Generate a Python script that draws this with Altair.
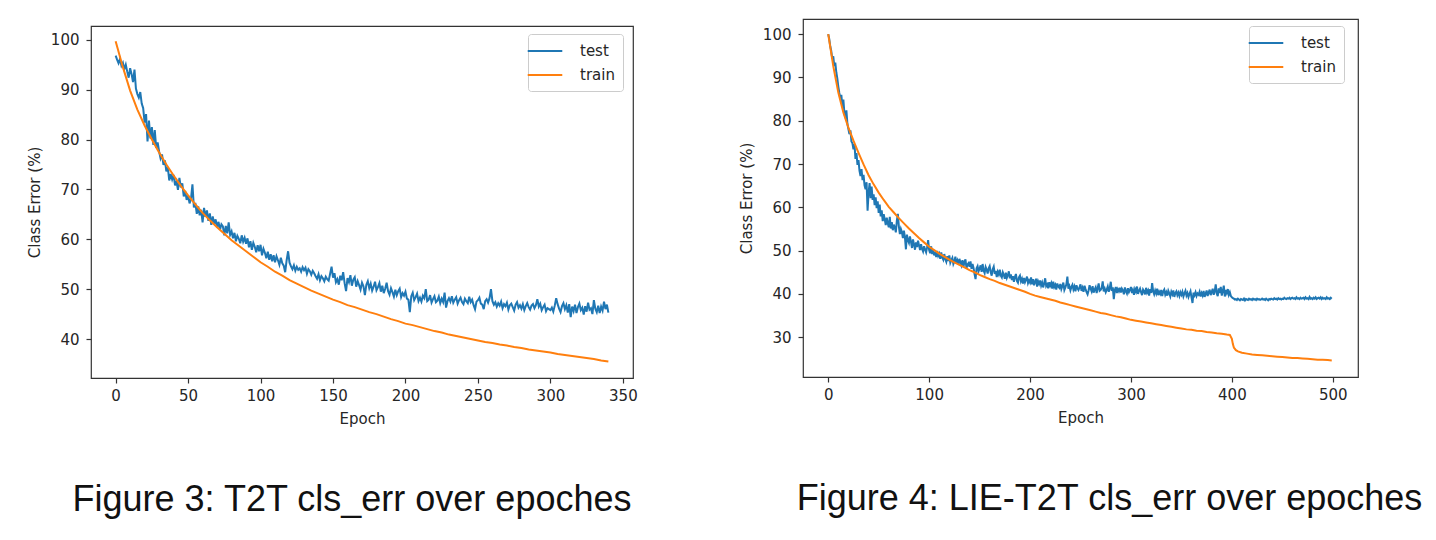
import altair as alt
import pandas as pd

# ---------------- T2T (Figure 3) ----------------
t2t_test = [
    96.8, 96.0, 95.3, 96.1, 94.8, 95.4, 94.1, 95.0, 93.6, 92.4,
    94.3, 93.1, 91.5, 94.0, 90.2, 89.1, 88.4, 89.5, 87.2, 86.3,
    83.4, 85.1, 79.6, 83.8, 80.2, 82.5, 78.9, 81.9, 78.3, 79.4,
    77.6, 76.2, 77.0, 74.9, 75.8, 73.6, 74.4, 71.8, 73.1, 72.0,
    72.9, 70.8, 71.6, 69.9, 72.3, 70.4, 71.2, 68.6, 69.7, 67.9,
    68.8, 67.2, 68.1, 71.0, 66.4, 67.3, 65.1, 66.6, 64.8, 65.9,
    63.4, 66.3, 64.5, 65.8, 63.7, 65.2, 62.9, 64.6, 63.1, 64.0,
    62.4, 63.5, 61.9, 63.0, 62.6, 60.8, 62.7, 61.2, 63.4, 60.9,
    61.6, 60.2, 61.3, 59.6, 60.7, 60.1, 59.2, 60.8, 59.5, 60.3,
    59.1, 60.2, 58.4, 59.6, 57.9, 59.3, 58.5, 57.4, 58.8, 57.6,
    58.9, 56.8, 58.1, 57.3, 56.2, 57.5, 55.9, 57.0, 55.6, 56.8,
    55.4, 56.6, 55.8, 54.9, 56.3, 55.2, 54.7, 53.4, 55.8, 57.6,
    55.3, 54.6, 54.0, 54.8, 53.7, 54.5, 53.9, 54.2, 53.5, 54.4,
    53.8, 54.3, 53.1, 54.0, 53.6, 52.9, 53.7, 53.2, 52.6, 52.1,
    53.0, 51.8, 52.6, 52.2, 51.6, 52.5, 52.0, 51.7, 53.1, 54.5,
    52.3, 53.2, 51.4, 52.0, 50.9, 52.7, 51.8, 53.4, 51.2, 49.6,
    52.2, 51.4, 52.8, 50.7, 51.9, 52.4, 50.5, 51.6, 50.8, 49.9,
    51.3, 50.6, 48.8, 50.9, 51.6, 50.2, 51.1, 49.7, 50.5, 51.5,
    49.8, 50.4, 51.2, 49.5, 50.7, 49.2, 50.1, 51.3, 49.6, 48.9,
    50.2, 49.4, 48.5, 49.9, 48.8, 49.6, 50.1, 48.4, 49.2, 48.7,
    49.5, 48.1, 47.9, 45.4, 48.6, 49.3, 47.8, 48.4, 49.1, 47.6,
    48.3, 47.5, 48.7, 48.2, 50.0, 47.6, 47.9, 48.8, 47.3, 48.0,
    48.6, 47.4, 47.7, 48.5, 47.2, 48.1, 47.4, 49.3, 46.3, 47.6,
    48.2, 47.5, 48.6, 47.3, 47.9, 48.4, 47.1, 47.8, 48.3, 47.4,
    47.0, 48.1, 47.6, 47.2, 48.5, 47.4, 47.9, 46.8, 46.0, 47.5,
    47.8, 48.3, 47.1, 46.9, 46.0, 47.6, 48.0, 47.3, 48.2, 50.0,
    47.6, 46.9, 47.4, 46.5, 47.2, 46.7, 47.5, 46.2, 47.0, 46.6,
    47.3, 45.9, 46.8, 47.1, 46.4, 45.7, 46.9, 47.4, 46.3, 46.8,
    46.1, 47.0, 45.8, 46.6, 47.2, 46.4, 45.9, 46.7, 47.0, 46.2,
    46.8, 48.0, 46.5, 47.1, 45.8, 46.4, 46.9, 45.6, 46.2, 46.0,
    45.8, 46.3, 45.5, 46.7, 48.2, 47.0, 46.1, 45.4, 46.6, 47.2,
    46.0, 46.8, 45.3, 47.0, 44.4, 46.5, 45.6, 46.9, 45.2, 46.4,
    47.1, 45.8, 46.3, 44.9, 46.6, 45.5, 47.3, 45.9, 46.2, 45.0,
    47.8, 46.1, 45.4, 46.7, 45.2, 46.5, 45.7, 47.5, 46.0, 46.9,
    45.3,
]

t2t_train_epoch = [
    0, 5, 10, 15, 20, 25, 30, 35, 40, 45, 50, 55, 60, 65, 70, 75, 80, 85, 90, 95,
    100, 105, 110, 115, 120, 125, 130, 135, 140, 145, 150, 155, 160, 165, 170, 175,
    180, 185, 190, 195, 200, 205, 210, 215, 220, 225, 230, 235, 240, 245, 250, 255,
    260, 265, 270, 275, 280, 285, 290, 295, 300, 305, 310, 315, 320, 325, 330, 335, 340,
]
t2t_train = [
    99.7, 94.5, 89.8, 86.0, 82.8, 80.0, 77.4, 75.0, 72.8, 70.7, 68.8, 67.0, 65.3, 63.8,
    62.4, 61.1, 59.8, 58.7, 57.6, 56.5, 55.4, 54.5, 53.5, 52.7, 51.8, 51.1, 50.4, 49.7,
    49.1, 48.5, 47.9, 47.4, 46.8, 46.4, 45.9, 45.4, 45.0, 44.5, 44.0, 43.6, 43.1, 42.8,
    42.4, 42.0, 41.6, 41.3, 40.9, 40.6, 40.3, 40.0, 39.7, 39.4, 39.2, 38.9, 38.7, 38.4,
    38.2, 37.9, 37.7, 37.5, 37.3, 37.0, 36.8, 36.6, 36.4, 36.2, 36.0, 35.7, 35.5,
]

# ---------------- LIE-T2T (Figure 4) ----------------
lie_test = [
    100.0, 98.9, 97.2, 96.1, 94.3, 94.9, 92.6, 93.4, 91.2, 89.8,
    87.9, 86.4, 85.1, 86.0, 83.2, 84.9, 81.8, 80.6, 82.4, 79.3,
    78.1, 76.9, 77.8, 75.2, 74.8, 73.4, 74.6, 71.2, 72.5, 69.8,
    70.9, 68.4, 67.2, 68.8, 66.3, 67.5, 65.1, 64.2, 65.8, 59.2,
    63.4, 65.6, 62.1, 64.8, 61.7, 63.0, 60.5, 62.3, 59.8, 61.4,
    58.7, 60.6, 57.9, 59.3, 56.8, 58.4, 57.2, 55.9, 57.6, 56.3,
    55.4, 57.8, 55.1, 56.6, 54.7, 56.0, 55.3, 54.2, 56.9, 58.5,
    55.6, 53.8, 55.0, 54.3, 52.9, 54.6, 53.1, 50.3, 53.7, 52.4,
    51.8, 53.3, 52.0, 50.6, 52.6, 51.4, 50.2, 51.9, 50.8, 52.3,
    51.2, 50.1, 51.5, 50.4, 49.8, 51.0, 50.2, 49.6, 50.8, 52.4,
    50.1, 49.4, 51.0, 49.2, 50.3, 48.9, 49.7, 48.5, 49.9, 48.8,
    49.3, 48.1, 49.6, 48.4, 47.9, 49.2, 48.0, 47.4, 48.7, 47.6,
    48.9, 47.2, 47.8, 48.3, 46.9, 47.5, 48.6, 47.0, 47.7, 46.8,
    48.1, 47.3, 46.6, 47.8, 46.2, 47.4, 48.0, 45.9, 46.8, 47.1,
    46.3, 47.5, 45.8, 46.9, 46.0, 44.6, 43.4, 45.9, 46.4, 45.2,
    45.8, 46.6, 45.1, 46.9, 45.4, 44.8, 46.2, 45.6, 44.7, 45.9,
    46.4, 45.0, 44.2, 45.7, 46.3, 44.6, 45.3, 43.9, 45.1, 44.5,
    45.6, 44.2, 43.8, 45.0, 44.4, 43.5, 44.9, 43.7, 44.3, 45.2,
    43.6, 44.5, 43.2, 44.1, 42.8, 43.9, 44.6, 43.0, 42.6, 43.8,
    44.2, 42.9, 43.5, 42.4, 43.7, 42.7, 43.3, 44.0, 42.5, 43.1,
    42.6, 43.8, 42.2, 43.4, 42.0, 42.8, 43.5, 41.7, 42.9, 42.3,
    43.1, 41.9, 42.6, 41.5, 42.4, 43.6, 41.8, 42.2, 41.3, 42.7,
    41.9, 42.5, 41.2, 42.8, 41.6, 42.1, 41.0, 42.4, 41.7, 41.4,
    42.3, 41.1, 41.8, 42.6, 40.9, 41.5, 42.2, 44.0, 41.2, 41.8,
    40.8, 41.6, 42.1, 41.0, 41.7, 40.6, 42.0, 41.3, 40.9, 41.5,
    42.2, 40.7, 41.4, 40.5, 41.9, 41.1, 40.4, 39.9, 40.8, 42.0,
    41.2, 40.6, 41.8, 40.3, 41.0, 41.5, 40.2, 41.3, 42.4, 40.7,
    40.9, 41.4, 42.9, 40.6, 41.2, 40.4, 41.0, 41.7, 40.5, 41.3,
    42.8, 40.7, 41.5, 38.8, 40.9, 41.6, 40.2, 41.1, 40.6, 41.4,
    40.3, 41.2, 40.8, 39.9, 41.5, 40.6, 40.1, 41.3, 40.4, 40.9,
    41.6, 40.2, 40.9, 39.8, 41.1, 40.5, 41.7, 40.0, 40.7, 41.2,
    40.4, 39.7, 41.0, 40.6, 39.9, 41.4, 40.3, 40.8, 39.6, 41.1,
    40.2, 42.5, 40.6, 39.9, 40.8, 40.1, 41.2, 39.7, 40.5, 40.0,
    40.9, 39.5, 40.6, 41.0, 39.8, 40.4, 39.6, 40.7, 40.1, 39.4,
    40.5, 39.9, 40.8, 39.3, 40.2, 40.6, 39.7, 40.3, 39.5, 40.4,
    39.8, 40.5, 39.4, 40.1, 40.7, 39.6, 40.2, 39.3, 40.0, 40.6,
    39.2, 37.9, 40.3, 39.7, 40.4, 39.5, 40.1, 39.8, 40.5, 39.4,
    40.2, 39.6, 40.7, 39.3, 40.0, 40.8, 39.5, 40.3, 41.0, 39.7,
    40.4, 41.2, 39.8, 40.6, 42.2, 40.1, 39.5, 41.3, 40.2, 41.6,
    39.6, 40.7, 41.9, 39.4, 40.9, 40.2, 41.1, 39.8, 40.4, 39.5,
    39.2, 39.0, 38.9, 38.7, 38.8, 38.6, 38.9, 38.7, 38.5, 38.8,
    38.7, 38.6, 38.9, 38.5, 38.8, 38.7, 38.6, 38.9, 38.7, 38.8,
    38.6, 38.9, 38.7, 38.8, 38.6, 38.9, 38.7, 38.8, 38.6, 38.7,
    38.9, 38.7, 38.8, 38.6, 38.9, 38.7, 38.5, 38.8, 38.7, 38.9,
    38.8, 38.7, 39.0, 38.8, 38.9, 38.7, 39.0, 38.8, 38.9, 38.7,
    38.9, 38.8, 39.1, 38.9, 38.8, 39.0, 38.9, 39.1, 38.8, 39.0,
    39.1, 38.9, 39.0, 38.8, 39.2, 38.9, 39.0, 38.8, 39.1, 38.9,
    39.0, 39.1, 38.8, 39.2, 38.9, 39.0, 38.8, 39.3, 38.9, 39.0,
    38.8, 39.1, 38.9, 39.2, 38.8, 39.0, 39.1, 38.9, 39.2, 38.8,
    39.1, 38.9, 39.0, 38.8, 39.2, 38.9, 39.0, 38.8, 39.1, 38.9,
]

lie_train_epoch = [
    0, 5, 10, 15, 20, 25, 30, 35, 40, 45, 50, 55, 60, 65, 70, 75, 80, 85, 90, 95,
    100, 105, 110, 115, 120, 125, 130, 135, 140, 145, 150, 155, 160, 165, 170, 175,
    180, 185, 190, 195, 200, 205, 210, 215, 220, 225, 230, 235, 240, 245, 250, 255,
    260, 265, 270, 275, 280, 285, 290, 295, 300, 305, 310, 315, 320, 325, 330, 335,
    340, 345, 350, 355, 360, 365, 370, 375, 380, 385, 390, 395, 398, 400, 401, 402,
    404, 406, 410, 415, 420, 425, 430, 435, 440, 445, 450, 455, 460, 465, 470, 475,
    480, 485, 490, 495, 499,
]
lie_train = [
    100.0, 92.6, 86.5, 81.9, 78.4, 75.4, 72.6, 69.9, 67.4, 65.3, 63.4, 61.7, 60.1, 58.8,
    57.5, 56.3, 55.1, 54.0, 52.9, 51.9, 50.9, 50.1, 49.3, 48.6, 47.9, 47.3, 46.7, 46.1,
    45.5, 45.0, 44.4, 43.9, 43.4, 43.0, 42.5, 42.1, 41.7, 41.3, 40.9, 40.5, 40.0, 39.6,
    39.3, 39.0, 38.7, 38.4, 38.0, 37.7, 37.4, 37.1, 36.8, 36.5, 36.2, 35.9, 35.6, 35.4,
    35.1, 34.8, 34.6, 34.3, 34.0, 33.8, 33.6, 33.4, 33.2, 33.0, 32.8, 32.6, 32.4, 32.2,
    32.0, 31.8, 31.7, 31.5, 31.4, 31.2, 31.1, 30.9, 30.8, 30.6, 30.5, 29.6, 28.4, 27.6,
    27.0, 26.7, 26.4, 26.2, 26.0, 25.9, 25.8, 25.7, 25.6, 25.5, 25.4, 25.3, 25.2, 25.2,
    25.1, 25.0, 24.9, 24.8, 24.8, 24.7, 24.6,
]

SERIES = ["test", "train"]
COLORS = ["#1f77b4", "#ff7f0e"]
AXIS_FONT = "DejaVu Sans"
CAPTION_FONT = "Liberation Sans"
INK = "#262626"


def panel(test_vals, train_epochs, train_vals, x_domain, x_ticks, y_domain, y_ticks,
          width, height, legend_xy, caption, caption_dx):
    test_df = pd.DataFrame({"epoch": list(range(len(test_vals))), "err": test_vals, "series": "test"})
    train_df = pd.DataFrame({"epoch": train_epochs, "err": train_vals, "series": "train"})

    x = alt.X(
        "epoch:Q",
        scale=alt.Scale(domain=x_domain, nice=False, zero=False),
        axis=alt.Axis(values=x_ticks, title="Epoch", format="d"),
    )
    y = alt.Y(
        "err:Q",
        scale=alt.Scale(domain=y_domain, nice=False, zero=False),
        axis=alt.Axis(values=y_ticks, title="Class Error (%)", format="d", labelPadding=7),
    )
    color = alt.Color(
        "series:N",
        scale=alt.Scale(domain=SERIES, range=COLORS),
        legend=alt.Legend(
            title=None,
            orient="none",
            legendX=legend_xy[0],
            legendY=legend_xy[1],
            symbolType="M-2.16,0H2.16",
            symbolSize=256,
            symbolStrokeWidth=2,
            labelFont=AXIS_FONT,
            labelFontSize=15,
            labelColor=INK,
            labelOffset=26,
            rowPadding=7,
            padding=8,
            fillColor="white",
            strokeColor="#cccccc",
            cornerRadius=3,
        ),
    )

    test_line = alt.Chart(test_df).mark_line(strokeWidth=2).encode(x=x, y=y, color=color)
    train_line = alt.Chart(train_df).mark_line(strokeWidth=2).encode(x=x, y=y, color=color)

    return alt.layer(test_line, train_line).properties(
        width=width,
        height=height,
        title=alt.TitleParams(
            caption,
            orient="bottom",
            anchor="middle",
            frame="group",
            dx=caption_dx,
            offset=57,
            font=CAPTION_FONT,
            fontSize=36,
            fontWeight="normal",
            color="#111111",
        ),
    )


# the left legend is placed within the stacked block, so its y includes the strip above
left = panel(
    t2t_test, t2t_train_epoch, t2t_train,
    [-17, 357], [0, 50, 100, 150, 200, 250, 300, 350],
    [32.2, 102.75], [40, 50, 60, 70, 80, 90, 100],
    542, 352, (437, 15),
    "Figure 3: T2T cls_err over epoches", -10,
)

right = panel(
    lie_test, lie_train_epoch, lie_train,
    [-25, 525], [0, 100, 200, 300, 400, 500],
    [20.8, 103.5], [30, 40, 50, 60, 70, 80, 90, 100],
    555, 358, (446, 7),
    "Figure 4: LIE-T2T cls_err over epoches", 29,
)

# an empty, invisible strip that drops the left panel a few pixels below the right one
spacer = (
    alt.Chart(pd.DataFrame({"v": [0]}))
    .mark_point(opacity=0, size=0.01, strokeWidth=0)
    .encode(x=alt.value(10), y=alt.value(0.5))
    .properties(width=542, height=1, view=alt.ViewBackground(stroke="transparent"))
)
left_block = alt.vconcat(spacer, left, spacing=4)

chart = (
    alt.hconcat(left_block, right, spacing=100)
    .resolve_scale(color="independent")
    .properties(padding={"left": 26, "top": 18, "right": 5, "bottom": 5})
    .configure_view(stroke="#333333", strokeWidth=1.2)
    .configure_axis(
        domain=False,
        grid=False,
        ticks=True,
        tickSize=5,
        tickWidth=1.2,
        tickColor="#333333",
        labelFont=AXIS_FONT,
        labelFontSize=15,
        labelColor=INK,
        labelPadding=5,
        titleFont=AXIS_FONT,
        titleFontSize=15,
        titleFontWeight="normal",
        titleColor=INK,
        titlePadding=8,
    )
    .configure_title(font=CAPTION_FONT)
)

chart.save("out.html", embed_options={"renderer": "svg", "actions": False})
